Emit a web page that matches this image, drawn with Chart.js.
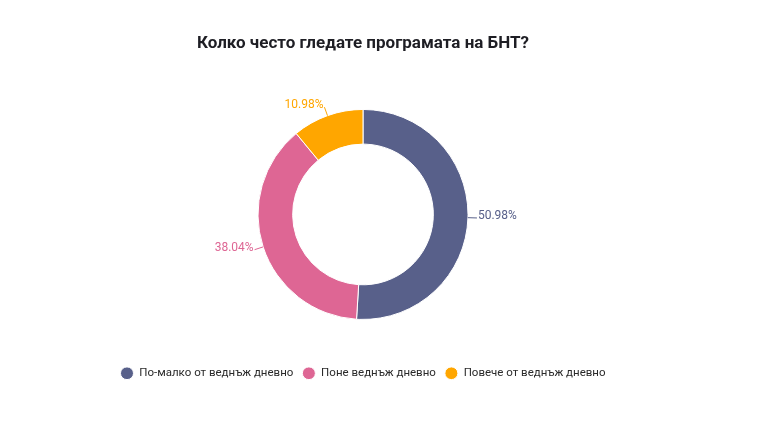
<!DOCTYPE html>
<html>
<head>
<meta charset="utf-8">
<script src="https://cdn.jsdelivr.net/npm/chart.js"></script>
<style>
  html, body { margin: 0; padding: 0; background: #fff; }
  #wrap { width: 761px; height: 441px; }
</style>
</head>
<body>
<div id="wrap"><canvas id="bntChart"></canvas></div>
<script>
// Data
const categories = ['По-малко от веднъж дневно', 'Поне веднъж дневно', 'Повече от веднъж дневно'];
const shares = [50.98, 38.04, 10.98];
const colors = ['#58608a', '#de6694', '#ffa600'];

// Draws the percent labels outside the ring with short leader lines
const outsideLabels = {
    id: 'outsideLabels',
    afterDatasetsDraw(chart) {
        const ctx = chart.ctx;
        const meta = chart.getDatasetMeta(0);
        ctx.save();
        ctx.font = '12px Roboto';
        meta.data.forEach(function (arc, i) {
            const p = arc.getProps(['x', 'y', 'startAngle', 'endAngle', 'outerRadius'], true);
            const mid = (p.startAngle + p.endAngle) / 2;
            const cos = Math.cos(mid), sin = Math.sin(mid);
            const x0 = p.x + cos * p.outerRadius;
            const y0 = p.y + sin * p.outerRadius;
            const x1 = p.x + cos * (p.outerRadius + 9);
            const y1 = p.y + sin * (p.outerRadius + 9);
            ctx.strokeStyle = colors[i];
            ctx.lineWidth = 1;
            ctx.beginPath();
            ctx.moveTo(x0, y0);
            ctx.lineTo(x1, y1);
            ctx.stroke();
            ctx.fillStyle = colors[i];
            ctx.textBaseline = 'alphabetic';
            ctx.textAlign = cos >= 0 ? 'left' : 'right';
            ctx.fillText(shares[i].toFixed(2) + '%', cos >= 0 ? x1 + 1 : x1 - 1, y1 + 1);
        });
        ctx.restore();
    }
};

const ctx = document.getElementById('bntChart').getContext('2d');
const bntChart = new Chart(ctx, {
    type: 'doughnut',
    data: {
        labels: categories,
        datasets: [{
            data: shares,
            backgroundColor: colors,
            borderColor: '#ffffff',
            borderWidth: 1,
            radius: 105,
            cutout: '67%'
        }]
    },
    options: {
        responsive: true,
        maintainAspectRatio: false,
        animation: false,
        layout: {
            padding: { left: 0, right: 35, top: 0, bottom: 52 }
        },
        plugins: {
            title: {
                display: true,
                text: 'Колко често гледате програмата на БНТ?',
                color: '#1e1e24',
                font: { family: 'Roboto', size: 17, weight: 'bold' },
                padding: { top: 34, bottom: 16 }
            },
            legend: {
                position: 'bottom',
                labels: {
                    usePointStyle: true,
                    pointStyle: 'circle',
                    boxWidth: 9,
                    boxHeight: 9,
                    pointStyleWidth: 13,
                    padding: 9,
                    color: '#2a2a2a',
                    font: { family: 'Roboto', size: 11.5 }
                }
            },
            tooltip: { enabled: false }
        }
    },
    plugins: [outsideLabels]
});
</script>
</body>
</html>
